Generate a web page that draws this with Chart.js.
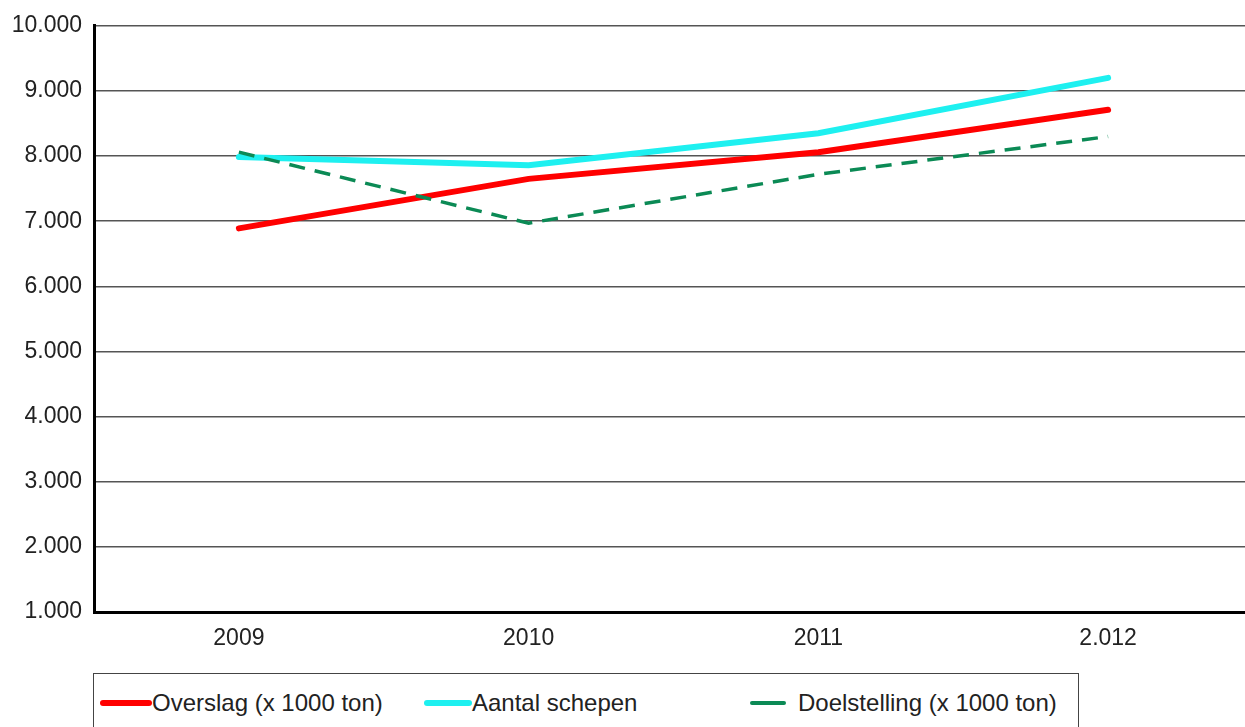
<!DOCTYPE html>
<html>
<head>
<meta charset="utf-8">
<script src="https://cdn.jsdelivr.net/npm/chart.js@4/dist/chart.umd.min.js"></script>
<style>
  html, body { margin: 0; padding: 0; background: #fff; overflow: hidden; }
  body { width: 1245px; height: 727px; position: relative; font-family: "Liberation Sans", Arial, sans-serif; }
  #wrap { position: absolute; left: 0; top: 0; width: 1253px; height: 662px; }
  #legend {
    position: absolute; left: 93px; top: 673px; width: 986px; height: 70px;
    border: 1.5px solid #444; box-sizing: border-box;
  }
  .item { position: absolute; top: 15px; font-size: 24px; color: #222; white-space: nowrap; line-height: 28px; }
  .item span.sw { display: inline-block; vertical-align: middle; margin-top: -3px; border-radius: 3px; }
</style>
</head>
<body>
<div id="wrap"><canvas id="myChart"></canvas></div>
<div id="legend">
  <div class="item" style="left:6px"><span class="sw" style="width:52px;height:6px;background:#ff0000"></span>Overslag (x 1000 ton)</div>
  <div class="item" style="left:330px"><span class="sw" style="width:48px;height:6px;background:#1ef0f0"></span>Aantal schepen</div>
  <div class="item" style="left:656px"><span class="sw" style="width:36px;height:4px;background:#0b8a55;margin-right:12px"></span>Doelstelling (x 1000 ton)</div>
</div>
<script>
let labels = ['2009', '2010', '2011', '2.012'];
let overslag = [6890, 7650, 8060, 8710];
let schepen = [7985, 7860, 8350, 9200];
let doelstelling = [8060, 6970, 7720, 8300];
let yTicks = [1000, 2000, 3000, 4000, 5000, 6000, 7000, 8000, 9000, 10000];

let ctx = document.getElementById('myChart').getContext('2d');

let myChart = new Chart(ctx, {
  type: 'line',
  data: {
    labels: labels,
    datasets: [{
      label: 'Overslag (x 1000 ton)',
      data: overslag,
      borderColor: '#ff0000',
      borderWidth: 6,
      borderCapStyle: 'round',
      order: 1
    }, {
      label: 'Aantal schepen',
      data: schepen,
      borderColor: '#1ef0f0',
      borderWidth: 6,
      borderCapStyle: 'round',
      order: 2
    }, {
      label: 'Doelstelling (x 1000 ton)',
      data: doelstelling,
      borderColor: '#0b8a55',
      borderWidth: 3.5,
      borderDash: [16, 10],
      order: 0
    }]
  },
  options: {
    responsive: true,
    maintainAspectRatio: false,
    animation: false,
    events: [],
    elements: {
      point: { radius: 0 },
      line: { tension: 0 }
    },
    layout: { padding: { top: 25, right: 0, left: 0, bottom: 0 } },
    plugins: {
      legend: { display: false },
      tooltip: { enabled: false }
    },
    scales: {
      x: {
        offset: true,
        grid: { display: false, drawTicks: false },
        border: { display: true, color: '#000', width: 3 },
        ticks: {
          color: '#222',
          padding: 13,
          font: { family: 'Liberation Sans', size: 23 }
        },
        afterFit: (scale) => { scale.height = 50; }
      },
      y: {
        min: 1000,
        max: 10000,
        afterBuildTicks: (scale) => { scale.ticks = yTicks.map(v => ({ value: v })); },
        grid: { color: '#555', lineWidth: 1.5, drawTicks: false },
        border: { display: true, color: '#000', width: 3 },
        ticks: {
          color: '#222',
          padding: 12,
          font: { family: 'Liberation Sans', size: 23 },
          callback: (value) => value.toLocaleString('de-DE')
        },
        afterFit: (scale) => { scale.width = 94; }
      }
    }
  }
});
</script>
</body>
</html>
